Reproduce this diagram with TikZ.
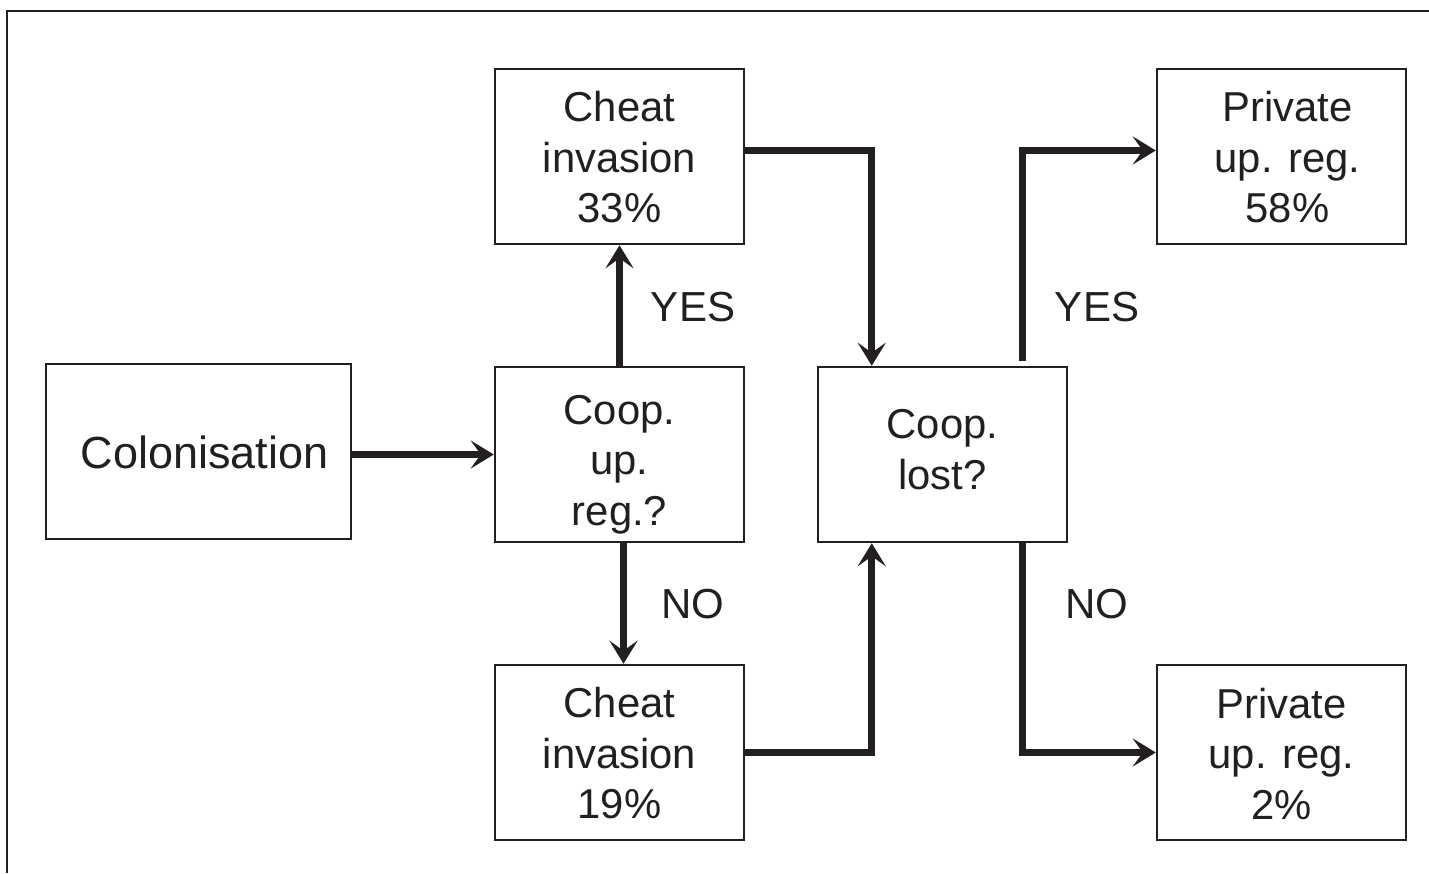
\documentclass[tikz,border=0pt]{standalone}
\usepackage{fontspec}
\setmainfont{Liberation Sans}
\usetikzlibrary{arrows.meta,calc}
\definecolor{ink}{HTML}{231F20}
\tikzset{
  box/.style={draw=ink, line width=2.5pt, minimum width=249pt, minimum height=175pt, inner sep=0pt},
  txt/.style={align=center, text=ink, inner sep=0pt, font=\fontsize{41.8}{50.5}\selectfont},
  lbl/.style={text=ink, inner sep=0pt, font=\fontsize{42}{50}\selectfont},
  arr/.style={draw=ink, line width=7pt, -{Stealth[length=23pt, width=28pt, inset=10pt]}}
}
\begin{document}
\begin{tikzpicture}[x=1pt,y=-1pt]
\useasboundingbox (0,0) rectangle (1429,873);
\draw[ink, line width=2pt] (7,873) -- (7,11) -- (1429,11);
\node[box, minimum width=305pt] (col) at (198.5,451.5) {};
\node[box] (coop) at (619.5,454.5) {};
\node[box] (c33) at (619.5,156.5) {};
\node[box] (c19) at (619.5,752.5) {};
\node[box] (lost) at (942.5,454.5) {};
\node[box] (p58) at (1281.5,156.5) {};
\node[box] (p2) at (1281.5,752.5) {};
\node[txt, font=\fontsize{45}{50}\selectfont] (colT) at ([xshift=6pt, yshift=-1pt]col.center) {Colonisation};
\node[txt] (coopT) at ([yshift=-10pt]coop.center) {Coop.\\up.\\reg.?};
\node[txt] (c33T) at ([yshift=-1pt]c33.center) {Cheat\\invasion\\33\%};
\node[txt] (c19T) at ([yshift=-1pt]c19.center) {Cheat\\invasion\\19\%};
\node[txt] (lostT) at ([yshift=5pt]lost.center) {Coop.\\lost?};
\node[txt] (p58T) at ([xshift=6pt, yshift=-1pt]p58.center) {Private\\up. reg.\\58\%};
\node[txt] (p2T) at ([yshift=-1pt]p2.center) {Private\\up. reg.\\2\%};
\node[lbl] (yes1) at (693,307) {YES};
\node[lbl] (no1) at (693,604) {NO};
\node[lbl] (yes2) at (1097,307) {YES};
\node[lbl] (no2) at (1097,604) {NO};
\draw[arr] (col.east |- coop.west) -- (coop.west);
\draw[arr] (coop.north) -- (c33.south);
\draw[arr] ([xshift=4pt]coop.south) -- ([xshift=4pt]c19.north);
\draw[arr] ([yshift=6pt]c33.east) -| ($(lost.north west)+(55,0)$);
\draw[arr] (c19.east) -| ($(lost.south west)+(55,0)$);
\draw[arr] ($(lost.north west)+(206,-5)$) |- ([yshift=6pt]p58.west);
\draw[arr] ($(lost.south west)+(206,0)$) |- (p2.west);
\end{tikzpicture}
\end{document}
